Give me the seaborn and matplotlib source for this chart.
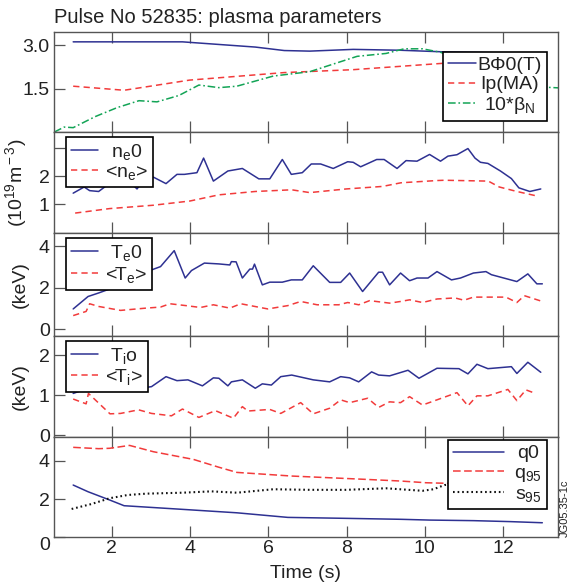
import matplotlib
matplotlib.use("Agg")
import matplotlib.pyplot as plt
import seaborn as sns
import pandas as pd

# ---------------- data ----------------
t_bphi = [1.02, 3.81, 5.67, 6.41, 7.06, 8.17, 9.38, 10.57, 11.5, 12.3, 13.0]
bphi = [3.11, 3.11, 2.93, 2.81, 2.79, 2.85, 2.82, 2.76, 2.74, 2.72, 2.70]
t_ip = [1.02, 2.32, 3.99, 6.41, 8.17, 10.57, 11.8, 13.0]
ip = [1.58, 1.44, 1.79, 2.05, 2.15, 2.38, 2.46, 2.55]
t_beta = [0.54, 0.79, 1.02, 1.58, 2.14, 2.70, 3.16, 3.72, 4.23, 4.74, 5.20, 6.13,
          7.06, 8.27, 9.01, 9.47, 9.94, 10.40, 10.57, 11.5, 12.3, 13.15, 13.45]
beta10 = [0.0, 0.17, 0.15, 0.53, 0.84, 1.08, 1.04, 1.26, 1.62, 1.53, 1.58, 1.93,
          2.08, 2.61, 2.71, 2.87, 2.87, 2.75, 2.67, 2.3, 1.9, 1.54, 1.52]

t_ne0 = [1.02, 1.30, 1.44, 1.67, 1.91, 2.09, 2.32, 2.65, 2.83, 3.07, 3.39, 3.67, 3.86,
         4.18, 4.35, 4.60, 4.97, 5.34, 5.76, 6.04, 6.36, 6.59, 6.87, 7.10, 7.34, 7.66,
         8.03, 8.17, 8.36, 8.77, 8.96, 9.29, 9.52, 9.80, 10.12, 10.40, 10.59, 10.82,
         11.10, 11.28, 11.42, 11.61, 11.93, 12.21, 12.40, 12.68, 12.96]
ne0 = [1.39, 1.61, 1.48, 1.45, 1.70, 1.63, 2.00, 1.54, 1.88, 1.96, 1.73, 2.06, 2.06,
       2.12, 2.64, 1.82, 2.18, 2.27, 1.90, 1.90, 2.59, 2.06, 2.12, 2.43, 2.43, 2.27,
       2.51, 2.49, 2.33, 2.59, 2.59, 2.27, 2.55, 2.53, 2.77, 2.53, 2.71, 2.76,
       2.98, 2.64, 2.49, 2.45, 2.18, 1.91, 1.58, 1.45, 1.54]
t_neav = [1.07, 1.95, 3.07, 4.00, 4.74, 5.67, 6.60, 7.06, 7.99, 8.92, 9.39, 10.31,
          10.50, 11.62, 11.90, 12.35, 12.86]
neav = [0.68, 0.84, 0.96, 1.11, 1.33, 1.45, 1.51, 1.41, 1.54, 1.63, 1.76, 1.84,
        1.85, 1.82, 1.61, 1.45, 1.29]

t_te0 = [1.02, 1.40, 1.67, 1.95, 2.32, 3.02, 3.25, 3.60, 3.88, 4.04, 4.37, 4.74, 5.02,
         5.06, 5.18, 5.34, 5.53, 5.60, 5.65, 5.85, 6.04, 6.36, 6.59, 6.87, 7.15, 7.57,
         7.85, 8.08, 8.41, 8.82, 8.92, 9.10, 9.38, 9.61, 9.80, 10.08, 10.31, 10.68,
         10.91, 11.24, 11.56, 11.70, 12.35, 12.63, 12.86, 13.00]
te0 = [0.97, 1.57, 1.74, 1.93, 2.13, 2.85, 3.01, 3.78, 2.46, 2.82, 3.18, 3.14, 3.09,
       3.25, 3.24, 2.46, 2.89, 2.89, 3.13, 2.13, 2.26, 2.26, 2.37, 2.37, 3.05, 2.25,
       2.25, 2.70, 1.81, 2.74, 2.74, 2.13, 2.70, 2.33, 2.46, 2.46, 2.77, 2.37,
       2.46, 2.70, 2.77, 2.62, 2.29, 2.66, 2.18, 2.18]
t_teav = [1.02, 1.35, 1.44, 1.67, 2.23, 2.88, 3.25, 3.49, 3.90, 4.27, 4.60, 5.02, 5.30,
          5.99, 6.50, 6.83, 7.25, 7.80, 8.03, 8.31, 8.59, 9.10, 9.38, 9.61, 9.94, 10.31,
          10.77, 11.00, 11.24, 11.70, 12.07, 12.35, 12.54, 13.00]
teav = [0.65, 0.85, 1.22, 1.09, 0.90, 1.01, 1.06, 1.22, 1.13, 1.04, 1.17, 1.01, 1.22,
        0.97, 1.13, 1.33, 1.17, 1.17, 1.28, 1.17, 1.37, 1.25, 1.33, 1.41, 1.28, 1.45,
        1.50, 1.39, 1.54, 1.54, 1.54, 1.28, 1.61, 1.33]

t_ti0 = [1.02, 1.40, 2.32, 3.02, 3.39, 3.67, 3.95, 4.32, 4.60, 4.74, 4.97, 5.06, 5.34,
         5.67, 5.85, 6.08, 6.32, 6.60, 7.15, 7.57, 7.85, 8.08, 8.31, 8.64, 8.82, 9.10,
         9.57, 9.85, 10.31, 10.87, 11.10, 11.33, 11.61, 12.21, 12.35, 12.63, 12.96]
ti0 = [1.04, 1.17, 1.11, 1.21, 1.46, 1.36, 1.38, 1.23, 1.43, 1.42, 1.23, 1.33, 1.38,
       1.17, 1.28, 1.25, 1.46, 1.50, 1.38, 1.33, 1.46, 1.43, 1.33, 1.58, 1.50, 1.48,
       1.62, 1.42, 1.67, 1.66, 1.53, 1.77, 1.66, 1.71, 1.54, 1.82, 1.57]
t_tiav = [1.02, 1.35, 1.41, 1.96, 2.23, 2.69, 3.02, 3.53, 3.81, 4.23, 4.65, 5.11, 5.34,
          5.48, 6.04, 6.32, 6.83, 7.15, 7.57, 7.85, 8.08, 8.54, 8.82, 9.10, 9.38, 9.61,
          9.94, 10.31, 10.82, 11.10, 11.33, 11.61, 12.12, 12.35, 12.58, 12.77]
tiav = [0.90, 0.78, 1.04, 0.53, 0.54, 0.63, 0.54, 0.48, 0.65, 0.44, 0.61, 0.42, 0.71,
        0.60, 0.64, 0.54, 0.81, 0.53, 0.67, 0.88, 0.81, 0.92, 0.69, 0.83, 0.81, 0.96,
        0.75, 0.88, 1.06, 0.73, 0.98, 0.98, 1.14, 0.86, 1.13, 1.06]

t_q0 = [1.02, 1.40, 1.95, 2.32, 3.81, 5.20, 6.50, 7.99, 9.39, 10.12, 11.24, 12.17, 13.00]
q0 = [2.73, 2.38, 1.95, 1.65, 1.46, 1.28, 1.04, 0.99, 0.94, 0.90, 0.87, 0.82, 0.76]
t_q95 = [1.02, 1.67, 1.95, 2.46, 3.07, 4.09, 4.74, 5.20, 6.60, 8.45, 9.38, 10.03,
         10.57, 11.5, 12.3, 13.0]
q95 = [4.70, 4.63, 4.65, 4.80, 4.47, 4.07, 3.66, 3.39, 3.20, 3.03, 2.94, 2.85,
       2.82, 2.82, 2.80, 2.80]
t_s95 = [0.98, 1.49, 1.95, 2.41, 2.88, 3.81, 4.55, 5.20, 6.13, 7.06, 7.99, 9.01,
         9.94, 10.22, 10.50, 11.0, 12.0, 13.0]
s95 = [1.48, 1.74, 2.04, 2.21, 2.28, 2.33, 2.40, 2.33, 2.51, 2.48, 2.48, 2.56,
       2.43, 2.51, 2.73, 2.8, 2.9, 3.0]

x_ticks = [2, 4, 6, 8, 10, 12]
title = "Pulse No 52835: plasma parameters"

# ---------------- style ----------------
sns.set_style("ticks")
plt.rcParams["font.family"] = ["Liberation Sans", "DejaVu Sans"]
plt.rcParams["mathtext.fontset"] = "custom"
plt.rcParams["mathtext.rm"] = "Liberation Sans"
plt.rcParams["mathtext.it"] = "Liberation Sans:italic"
plt.rcParams["mathtext.bf"] = "Liberation Sans:bold"
plt.rcParams["lines.scale_dashes"] = False
plt.rcParams["text.color"] = "#222222"
plt.rcParams["axes.labelcolor"] = "#222222"
plt.rcParams["xtick.color"] = "#555555"
plt.rcParams["ytick.color"] = "#555555"
plt.rcParams["xtick.labelcolor"] = "#222222"
plt.rcParams["ytick.labelcolor"] = "#222222"

BLUE = "#2E3192"
RED = "#F23B3B"
GREEN = "#13A456"
BLACK = "#111111"
DASH = (0, (4.5, 3.0))
DASH_Q = (0, (5.5, 2.5))
DASHDOT = (0, (5.5, 2.0, 1.2, 2.0))
DOT = (0, (1.2, 2.1))

W, H = 571, 588
fig = plt.figure(figsize=(W / 100, H / 100), dpi=100)
bounds = [31.7, 132.0, 233.0, 335.5, 437.0, 537.3]
left_px, right_px = 54.0, 558.0
axes = []
for i in range(5):
    top, bot = bounds[i], bounds[i + 1]
    ax = fig.add_axes([left_px / W, 1 - bot / H, (right_px - left_px) / W, (bot - top) / H])
    axes.append(ax)


def line(ax, t, v, color, ls, label, lw=1.1):
    df = pd.DataFrame({"t": t, "v": v})
    sns.lineplot(data=df, x="t", y="v", ax=ax, color=color, linestyle=ls,
                 linewidth=lw, label=label, legend=False)


ax1, ax2, ax3, ax4, ax5 = axes
line(ax1, t_bphi, bphi, BLUE, "-", "B\u03a60(T)")
line(ax1, t_ip, ip, RED, DASH, "Ip(MA)")
line(ax1, t_beta, beta10, GREEN, DASHDOT, "10*\u03b2$_{\\rm N}$")

line(ax2, t_ne0, ne0, BLUE, "-", "n$_{\\rm e}$0")
line(ax2, t_neav, neav, RED, DASH, "<n$_{\\rm e}$>")

line(ax3, t_te0, te0, BLUE, "-", "T$_{\\rm e}$0")
line(ax3, t_teav, teav, RED, DASH, "<T$_{\\rm e}$>")

line(ax4, t_ti0, ti0, BLUE, "-", "T$_{\\rm i}$o")
line(ax4, t_tiav, tiav, RED, DASH, "<T$_{\\rm i}$>")

line(ax5, t_q0, q0, BLUE, "-", "q0")
line(ax5, t_q95, q95, RED, DASH_Q, "q$_{\\rm 95}$")
line(ax5, t_s95, s95, BLACK, DOT, "s$_{\\rm 95}$", lw=1.5)

ylims = [(0, 3.46), (-0.03, 3.57), (-0.31, 4.63), (-0.05, 2.49), (0, 5.24)]
yticks = [[1.5, 3.0], [1, 2, 3], [0, 2, 4], [0, 1, 2], [0, 2, 4]]
yticklabels = [["1.5", "3.0"], ["1", "2", ""], ["0", "2", "4"], ["0", "1", "2"], ["0", "2", "4"]]

for i, ax in enumerate(axes):
    ax.set_xlim(0.53, 13.4)
    ax.set_ylim(*ylims[i])
    ax.set_xticks(x_ticks)
    ax.set_yticks(yticks[i])
    ax.set_yticklabels(yticklabels[i])
    ax.set_xlabel("")
    ax.set_ylabel("")
    ax.tick_params(axis="both", direction="in", length=8, width=0.9, labelsize=14, pad=3)
    ax.tick_params(axis="x", top=True, bottom=True, labelbottom=(i == 4), pad=2)
    ax.tick_params(axis="y", right=False)
    for s in ax.spines.values():
        s.set_color("#555555")
        s.set_linewidth(1.0)

ax5.get_yticklabels()[0].set_va("top")
ax5.set_xticklabels([str(v) for v in x_ticks])
ax5.set_xlabel("Time (s)", fontsize=14, labelpad=6)

ax2.set_ylabel("(10$^{\\rm 19}$m$^{\\rm -3}$)", fontsize=14)
ax3.set_ylabel("(keV)", fontsize=14)
ax4.set_ylabel("(keV)", fontsize=14)
for ax in (ax2, ax3, ax4):
    ax.yaxis.set_label_coords(-0.05, 0.5)

ax1.set_title(title, loc="left", fontsize=14.5, pad=6)

legends = []


def make_leg(ax, loc, anchor, hl, htp):
    leg = ax.legend(loc=loc, bbox_to_anchor=anchor, borderaxespad=0, frameon=True,
                    fancybox=False, edgecolor="black", framealpha=1, fontsize=14,
                    handlelength=hl, handletextpad=htp, borderpad=0.25,
                    labelspacing=0.08)
    leg.get_frame().set_linewidth(1.2)
    leg.set_zorder(10)
    legends.append(leg)
    return leg


make_leg(ax1, "upper right", (0.9776, 0.80), 1.4, 0.1)
make_leg(ax2, "upper left", (0.024, 0.948), 1.4, 0.35)
make_leg(ax3, "upper left", (0.024, 0.948), 1.4, 0.35)
make_leg(ax4, "upper left", (0.024, 0.948), 1.4, 0.35)
make_leg(ax5, "upper right", (0.9776, 0.97), 2.6, 0.55)

fig.text(565 / W, 1 - 508 / H, "JG05.35-1c", rotation=90, fontsize=8,
         ha="center", va="center")

# centre legend texts in their column
fig.canvas.draw()
renderer = fig.canvas.get_renderer()
for leg in legends:
    texts = leg.get_texts()
    widths = [t.get_window_extent(renderer).width for t in texts]
    m = max(widths)
    for t, w in zip(texts, widths):
        t.set_position(((m - w) / 2, 0))

fig.savefig("out.png", dpi=100)
